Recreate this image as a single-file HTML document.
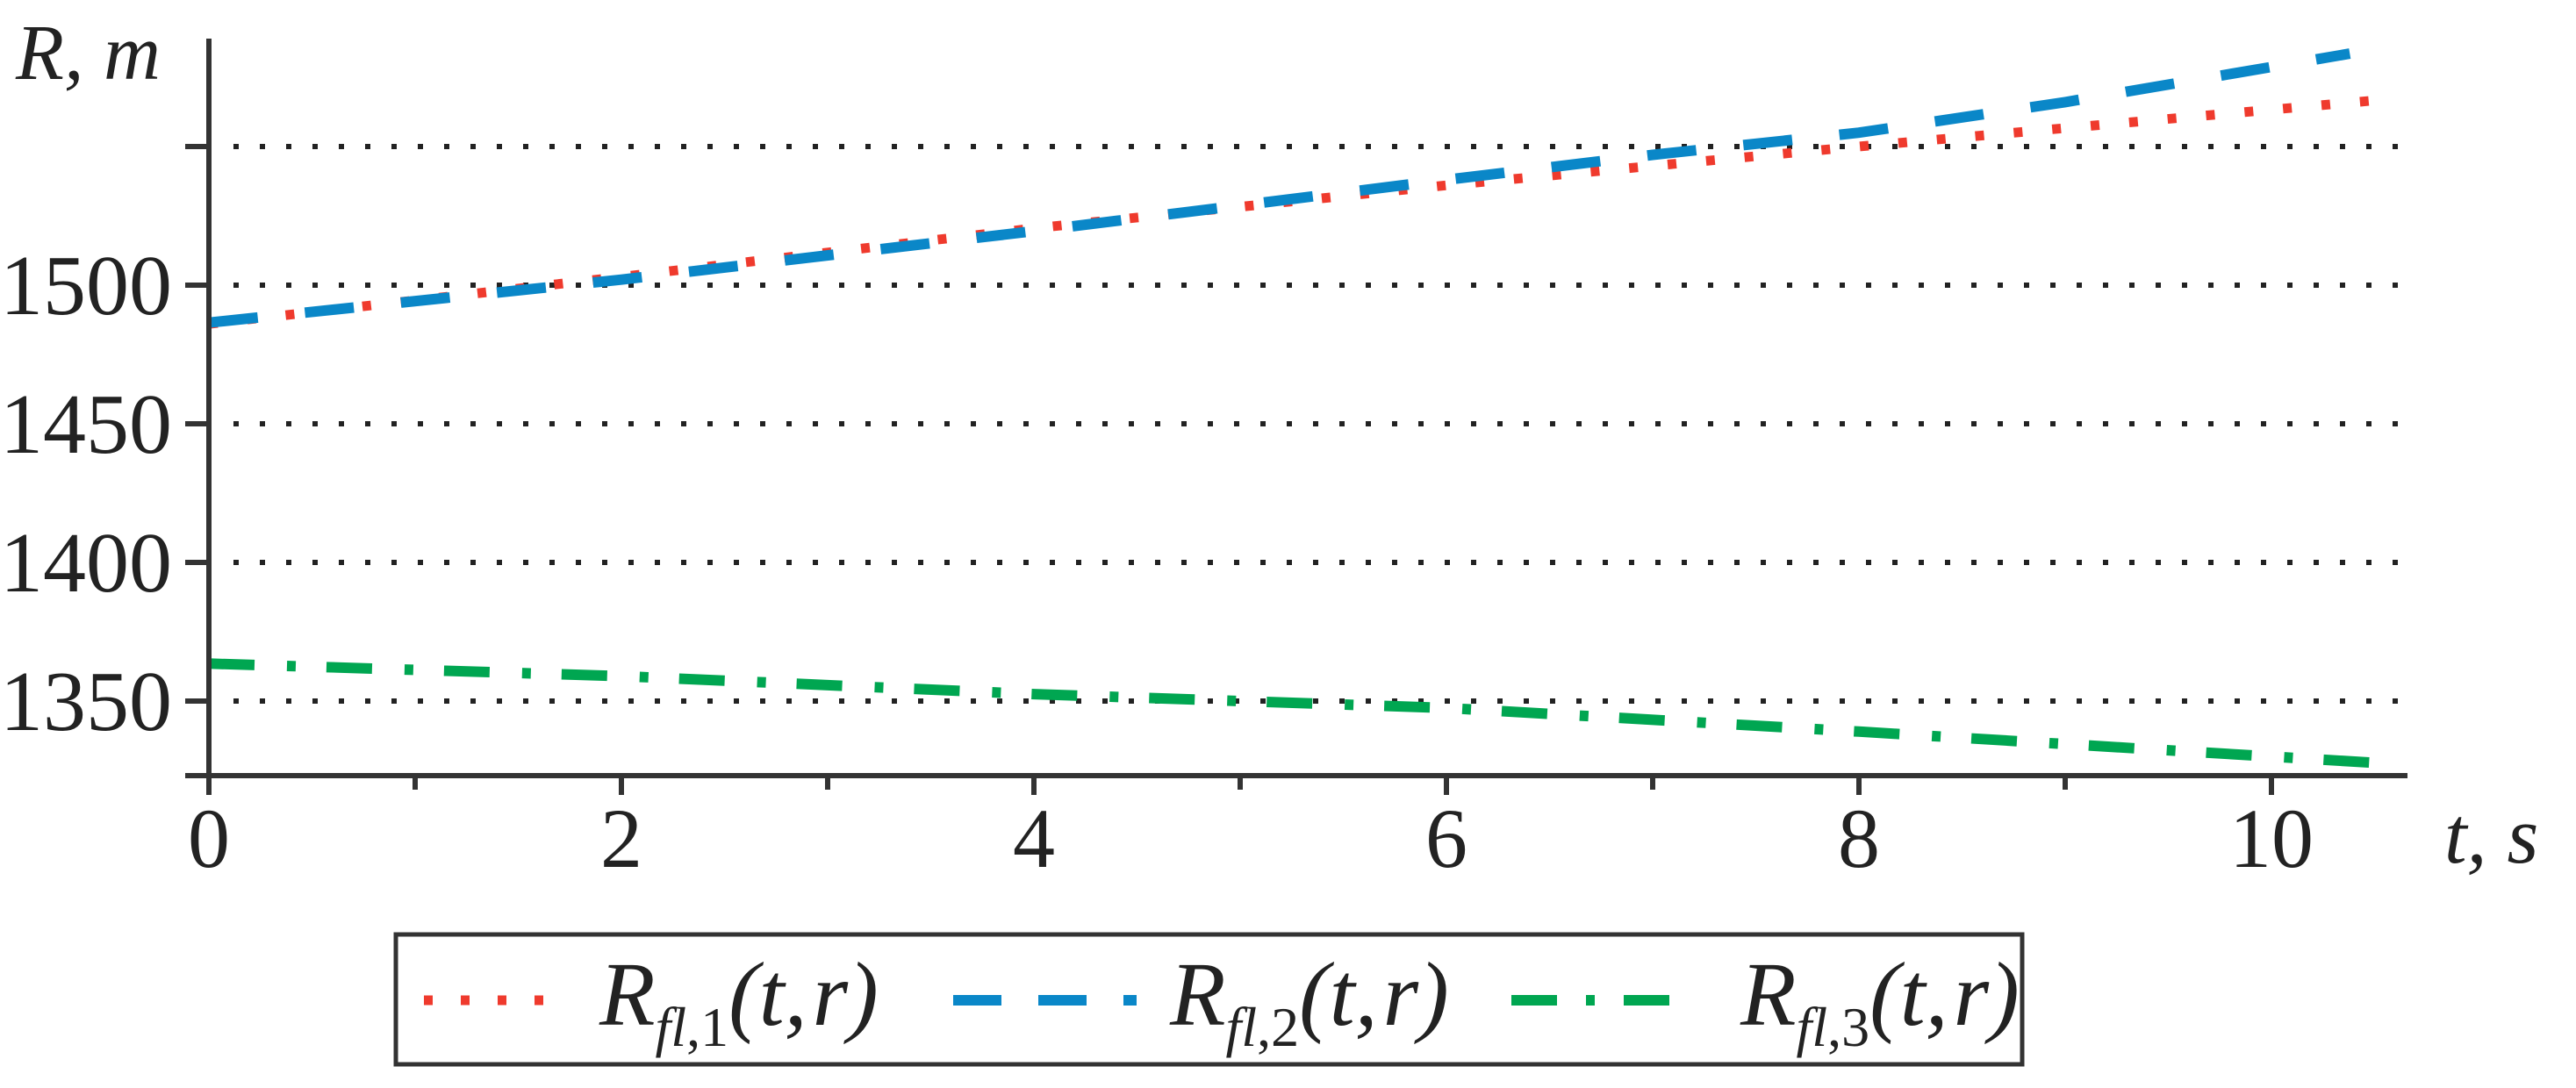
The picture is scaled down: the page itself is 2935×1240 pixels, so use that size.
<!DOCTYPE html>
<html><head><meta charset="utf-8"><style>
html,body{margin:0;padding:0;background:#fff;}
svg{display:block;}
text{font-family:"Liberation Serif",serif;fill:#222;}
</style></head><body>
<svg id="chart" width="2935" height="1240" viewBox="0 0 2935 1240">
<g id="grid"></g>
<g id="series"></g>
<g id="axes"></g>
<text x="18" y="90" font-size="90" font-style="italic">R, m</text>
<text x="2785" y="983" font-size="92" font-style="italic">t,  s</text>
<g>
<rect x="451" y="1065" width="1853" height="148" fill="#fff" stroke="#333" stroke-width="5"/>
<line x1="483" y1="1140" x2="630" y2="1140" stroke="#ef3a2d" stroke-width="11" stroke-dasharray="10,32"/>
<g><text x="683" y="1168" font-size="104" font-style="italic">R<tspan font-size="64" dy="24">fl</tspan><tspan font-size="64" font-style="normal">,1</tspan><tspan dy="-24">(t,</tspan><tspan dx="6">r)</tspan></text></g>
<line x1="1086" y1="1140" x2="1295" y2="1140" stroke="#0a87c8" stroke-width="12" stroke-dasharray="55,42"/>
<g><text x="1333" y="1168" font-size="104" font-style="italic">R<tspan font-size="64" dy="24">fl</tspan><tspan font-size="64" font-style="normal">,2</tspan><tspan dy="-24">(t,</tspan><tspan dx="6">r)</tspan></text></g>
<line x1="1722" y1="1140" x2="1930" y2="1140" stroke="#00a651" stroke-width="12" stroke-dasharray="52,33,10,33"/>
<g><text x="1983" y="1168" font-size="104" font-style="italic">R<tspan font-size="64" dy="24">fl</tspan><tspan font-size="64" font-style="normal">,3</tspan><tspan dy="-24">(t,</tspan><tspan dx="6">r)</tspan></text></g>
</g>
</svg>
<script>
const tRed = [0, 2, 4, 6, 7, 8, 10.48];
const rRed = [1486, 1503, 1520.5, 1536, 1543, 1550, 1566.5];
const tBlue = [0, 2, 4, 6, 7, 8, 9, 10.38];
const rBlue = [1486.5, 1502, 1519.5, 1538, 1547, 1555, 1566, 1583.5];
const tGreen = [0, 2, 4, 6, 8, 10.55];
const rGreen = [1363.5, 1359, 1352.5, 1347.5, 1339, 1327.5];
const yTicks = [1350, 1400, 1450, 1500, 1550];
const yTickLabels = ["1350", "1400", "1450", "1500", ""];
const xTicks = [0, 1, 2, 3, 4, 5, 6, 7, 8, 9, 10];
const xTickLabels = ["0", "", "2", "", "4", "", "6", "", "8", "", "10"];

const NS = "http://www.w3.org/2000/svg";
const X0 = 238, XU = 235, Y0 = 799, YU = 158/50;
function sx(t){ return X0 + t*XU; }
function sy(v){ return Y0 - (v-1350)*YU; }
function mk(tag, attrs, parent){ const e=document.createElementNS(NS,tag); for(const k in attrs) e.setAttribute(k,attrs[k]); parent.appendChild(e); return e; }

const grid=document.getElementById('grid'), axes=document.getElementById('axes'), ser=document.getElementById('series');
yTicks.forEach((v,i)=>{
  const g=mk('line',{x1:X0+28,x2:2735,y1:sy(v),y2:sy(v),stroke:'#222','stroke-width':6,'stroke-dasharray':'6,24'},grid);
  
  
  const tk=mk('line',{x1:211,x2:X0,y1:sy(v),y2:sy(v),stroke:'#333','stroke-width':6},axes);
  
  
  if(yTickLabels[i]){
    const tx=mk('text',{x:196,y:sy(v)+33,'font-size':98,'text-anchor':'end'},axes);
    tx.textContent=yTickLabels[i];
    
    
  }
});
xTicks.forEach((t,i)=>{
  const tk=mk('line',{x1:sx(t),x2:sx(t),y1:884,y2:i%2?900:906,stroke:'#333','stroke-width':6},axes);
  
  
  if(xTickLabels[i]){
    const tx=mk('text',{x:sx(t),y:988,'font-size':96,'text-anchor':'middle'},axes);
    tx.textContent=xTickLabels[i];
    
    
  }
});
const ya=mk('line',{x1:X0,x2:X0,y1:44,y2:906,stroke:'#333','stroke-width':6},axes);


const xa=mk('line',{x1:211,x2:2743,y1:884,y2:884,stroke:'#333','stroke-width':6},axes);



function path(ts,vs){ return ts.map((t,i)=>(i?'L':'M')+sx(t).toFixed(1)+','+sy(vs[i]).toFixed(1)).join(' '); }
const p1=mk('path',{d:path(tRed,rRed),fill:'none',stroke:'#ef3a2d','stroke-width':11,'stroke-dasharray':'10,34'},ser);


const p2=mk('path',{d:path(tBlue,rBlue),fill:'none',stroke:'#0a87c8','stroke-width':12,'stroke-dasharray':'56,54'},ser);


const p3=mk('path',{d:path(tGreen,rGreen),fill:'none',stroke:'#00a651','stroke-width':12,'stroke-dasharray':'52,37,10,35'},ser);


</script>
</body></html>
